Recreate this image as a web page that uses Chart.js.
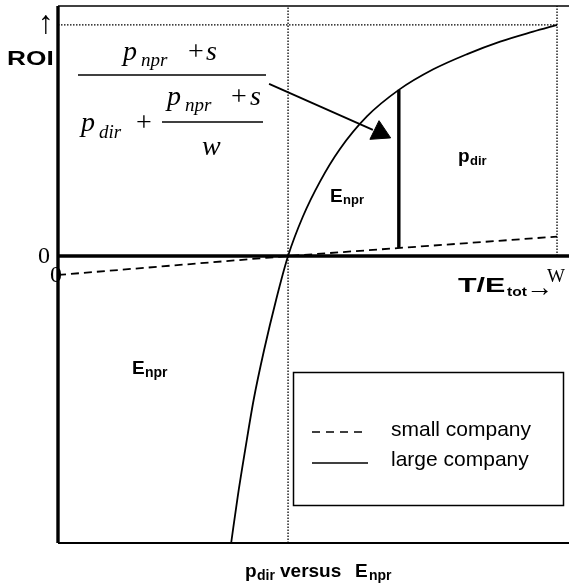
<!DOCTYPE html>
<html>
<head>
<meta charset="utf-8">
<script src="https://cdn.jsdelivr.net/npm/chart.js@4.4.1/dist/chart.umd.min.js"></script>
<style>
  html, body { margin: 0; padding: 0; background: #fff; overflow: hidden; }
  canvas { display: block; }
</style>
</head>
<body>
<canvas id="grafico" width="569" height="586"></canvas>
<script>
// valores (x = T/Etot relativo a w, y = ROI relativo al ROI en w)
const xRange = [0, 1.024];
const yRange = [-1.242, 1.082];

const largeX = [0.347, 0.360, 0.375, 0.392, 0.413, 0.437, 0.461, 0.491, 0.525, 0.565, 0.619, 0.683, 0.752, 0.820, 0.886, 0.952, 1.0];
const largeY = [-1.242, -1.043, -0.840, -0.623, -0.407, -0.190, 0, 0.172, 0.322, 0.463, 0.604, 0.719, 0.808, 0.874, 0.928, 0.971, 1.0];

const smallX = [0, 0.461, 1.0];
const smallY = [-0.082, 0, 0.084];

const breakEvenX = 0.461;   // cruce de la curva grande con ROI = 0
const wX = 1.0;             // T/Etot = w
const roiAtW = 1.0;
const barX = 0.683;
const barY = [0.035, 0.719];
const arrowX = [0.423, 0.631];
const arrowY = [0.745, 0.546];
const arrowHead = { x: 0.645, y: 0.534 };

const seriesLabels = ['small company', 'large company'];

const sans = '"Liberation Sans", Arial, sans-serif';
const serif = '"Liberation Serif", "Times New Roman", serif';

function pts(xs, ys) {
  return xs.map((x, i) => ({ x: x, y: ys[i] }));
}

function linea(data, width, dash) {
  return {
    data: data,
    showLine: true,
    borderColor: '#000',
    backgroundColor: '#000',
    borderWidth: width,
    borderDash: dash || [],
    pointRadius: 0,
    clip: false
  };
}

function texto(ctx, s, x, y, font, sx) {
  ctx.save();
  ctx.font = font;
  ctx.fillStyle = '#000';
  ctx.textAlign = 'left';
  ctx.textBaseline = 'alphabetic';
  ctx.translate(x, y);
  ctx.scale(sx || 1, 1);
  ctx.fillText(s, 0, 0);
  ctx.restore();
}

function raya(ctx, x1, y1, x2, y2, w, dash) {
  ctx.save();
  ctx.strokeStyle = '#000';
  ctx.lineWidth = w;
  ctx.setLineDash(dash || []);
  ctx.beginPath();
  ctx.moveTo(x1, y1);
  ctx.lineTo(x2, y2);
  ctx.stroke();
  ctx.restore();
}

// textos, formula y leyenda con recuadro
const anotaciones = {
  id: 'anotaciones',
  afterDraw(chart) {
    const ctx = chart.ctx;

    texto(ctx, '↑', 38, 33, '32px ' + sans);
    texto(ctx, 'ROI', 7, 65, 'bold 21px ' + sans, 1.25);
    texto(ctx, '0', 38, 263, '24px ' + serif);
    texto(ctx, '0', 50, 282, '24px ' + serif);

    // formula ROI en w
    const it = 'italic 28px ' + serif;
    const itSub = 'italic 19px ' + serif;
    const rom = '28px ' + serif;
    texto(ctx, 'p', 123, 60, it);
    texto(ctx, 'npr', 141, 66, itSub);
    texto(ctx, '+', 188, 60, rom);
    texto(ctx, 's', 206, 60, it);
    raya(ctx, 78, 75, 266, 75, 1.5);
    texto(ctx, 'p', 81, 131, it);
    texto(ctx, 'dir', 99, 138, itSub);
    texto(ctx, '+', 136, 131, rom);
    texto(ctx, 'p', 167, 105, it);
    texto(ctx, 'npr', 185, 111, itSub);
    texto(ctx, '+', 231, 105, rom);
    texto(ctx, 's', 250, 105, it);
    raya(ctx, 162, 122, 263, 122, 1.5);
    texto(ctx, 'w', 202, 155, it);

    // etiquetas de areas
    texto(ctx, 'E', 330, 202, 'bold 19px ' + sans);
    texto(ctx, 'npr', 343, 204, 'bold 13px ' + sans);
    texto(ctx, 'p', 458, 162, 'bold 19px ' + sans);
    texto(ctx, 'dir', 470, 165, 'bold 13px ' + sans);
    texto(ctx, 'E', 132, 374, 'bold 19px ' + sans);
    texto(ctx, 'npr', 145, 377, 'bold 14px ' + sans);

    // eje x
    texto(ctx, 'T/E', 458, 292, 'bold 21px ' + sans, 1.45);
    texto(ctx, 'tot', 507, 296, 'bold 13px ' + sans, 1.2);
    texto(ctx, '→', 526, 296, '27px ' + sans);
    texto(ctx, 'W', 547, 282, '19px ' + serif);

    // titulo inferior
    texto(ctx, 'p', 245, 577, 'bold 19px ' + sans);
    texto(ctx, 'dir', 257, 580, 'bold 14px ' + sans);
    texto(ctx, 'versus', 280, 577, 'bold 19px ' + sans);
    texto(ctx, 'E', 355, 577, 'bold 19px ' + sans);
    texto(ctx, 'npr', 369, 580, 'bold 14px ' + sans);

    // leyenda
    ctx.save();
    ctx.strokeStyle = '#000';
    ctx.lineWidth = 1.5;
    ctx.strokeRect(293.5, 372.5, 270, 133);
    ctx.restore();
    raya(ctx, 312, 432, 362, 432, 1.5, [8, 6]);
    raya(ctx, 312, 463, 368, 463, 1.5);
    texto(ctx, chart.data.datasets[0].label, 391, 436, '21px ' + sans);
    texto(ctx, chart.data.datasets[1].label, 391, 466, '21px ' + sans);
  }
};

const datasets = [
  Object.assign(linea(pts(smallX, smallY), 1.8, [8, 5]), { label: seriesLabels[0] }),
  Object.assign(linea(pts(largeX, largeY), 1.8), { label: seriesLabels[1], cubicInterpolationMode: 'monotone' }),
  // marco y ejes
  linea(pts([xRange[0], xRange[0]], yRange), 3.4),
  linea(pts(xRange, [0, 0]), 3.6),
  linea(pts(xRange, [yRange[1], yRange[1]]), 1.5),
  linea(pts(xRange, [yRange[0], yRange[0]]), 2),
  // lineas punteadas de referencia
  linea(pts([xRange[0], wX], [roiAtW, roiAtW]), 1.3, [1.5, 1.5]),
  linea(pts([breakEvenX, breakEvenX], yRange), 1.3, [1.5, 1.5]),
  linea(pts([wX, wX], [0, yRange[1]]), 1.3, [1.5, 1.5]),
  // barra vertical y flecha
  linea(pts([barX, barX], barY), 3.4),
  linea(pts(arrowX, arrowY), 1.8),
  {
    data: [arrowHead],
    pointStyle: 'triangle',
    pointRadius: 12,
    pointRotation: -4,
    pointBackgroundColor: '#000',
    pointBorderColor: '#000',
    pointBorderWidth: 1,
    showLine: false,
    clip: false
  }
];

new Chart(document.getElementById('grafico').getContext('2d'), {
  type: 'scatter',
  data: { datasets: datasets },
  options: {
    responsive: false,
    animation: false,
    devicePixelRatio: 1,
    layout: { autoPadding: false, padding: { left: 58, top: 6, right: 0, bottom: 43 } },
    scales: {
      x: { type: 'linear', min: xRange[0], max: xRange[1], display: false },
      y: { type: 'linear', min: yRange[0], max: yRange[1], display: false }
    },
    plugins: {
      legend: { display: false },
      tooltip: { enabled: false }
    }
  },
  plugins: [anotaciones]
});
</script>
</body>
</html>
